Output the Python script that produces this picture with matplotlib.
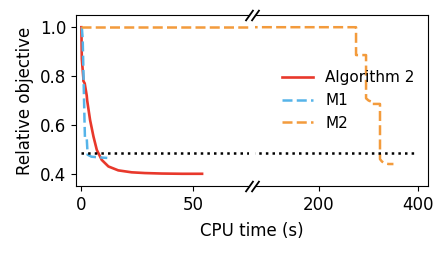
import matplotlib
matplotlib.use("Agg")
import matplotlib.pyplot as plt

# values
t_alg = [0.0, 0.2, 0.9, 0.9, 1.5, 2.4, 2.6, 3.9, 5.4, 6.9, 9.1, 12.1, 16.5, 22.5, 28.4, 36.0, 45.0, 54.0]
y_alg = [1.0, 0.87, 0.79, 0.78, 0.77, 0.72, 0.70, 0.62, 0.553, 0.498, 0.457, 0.43, 0.414, 0.406, 0.403, 0.401, 0.400, 0.400]

t_m1 = [0.2, 0.6, 1.4, 1.6, 2.4, 2.8, 4.5, 8.0, 11.6]
y_m1 = [1.0, 0.95, 0.62, 0.547, 0.547, 0.478, 0.47, 0.467, 0.465]

t_m2 = [0.0, 274.9, 274.9, 295.0, 295.0, 300.0, 306.0, 306.0, 323.0, 323.0, 327.0, 333.0, 340.0, 350.0]
y_m2 = [1.0, 1.0, 0.886, 0.886, 0.709, 0.70, 0.695, 0.686, 0.686, 0.46, 0.45, 0.443, 0.44, 0.44]

ref_level = 0.485
ref_span = [0.0, 397.0]

labels = ["Algorithm 2", "M1", "M2"]
colors = ["#e8382b", "#56b4e9", "#f39b3c"]

fig = plt.figure(figsize=(4.48, 2.54), dpi=100)
ax1 = fig.add_axes([76 / 448, 1 - 186 / 254, 173 / 448, 171 / 254])
ax2 = fig.add_axes([255 / 448, 1 - 186 / 254, 173.3 / 448, 171 / 254], sharey=ax1)

for ax in (ax1, ax2):
    ax.plot(t_alg, y_alg, color=colors[0], lw=1.9, label=labels[0])
    ax.plot(t_m1, y_m1, color=colors[1], lw=1.8, ls="--", dashes=(4.0, 1.7), label=labels[1])
    ax.plot(t_m2, y_m2, color=colors[2], lw=1.8, ls="--", dashes=(4.0, 1.7), label=labels[2])
    ax.plot(ref_span, [ref_level, ref_level], color="black", lw=1.8, ls=":")
    ax.tick_params(labelsize=12)

ax1.set_xlim(-2.4, 75)
ax2.set_xlim(72, 420)
ax1.set_ylim(0.35, 1.05)
ax1.set_xticks([0, 50])
ax2.set_xticks([200, 400])
ax1.set_yticks([0.4, 0.6, 0.8, 1.0])

ax1.spines["right"].set_visible(False)
ax2.spines["left"].set_visible(False)
ax2.tick_params(axis="y", left=False, labelleft=False)

# break marks
d = 1.4
kw = dict(marker=[(-1, -d), (1, d)], markersize=8, linestyle="none",
          color="k", mec="k", mew=1.3, clip_on=False)
ax1.plot([1, 1], [0, 1], transform=ax1.transAxes, **kw)
ax2.plot([0, 0], [0, 1], transform=ax2.transAxes, **kw)

ax1.set_ylabel("Relative objective", fontsize=12)
fig.text((76 + 428) / 2 / 448, 1 - 231 / 254, "CPU time (s)", ha="center", va="center", fontsize=12)

ax2.legend(loc="center right", frameon=False, fontsize=11)

fig.savefig("out.png", dpi=100)
